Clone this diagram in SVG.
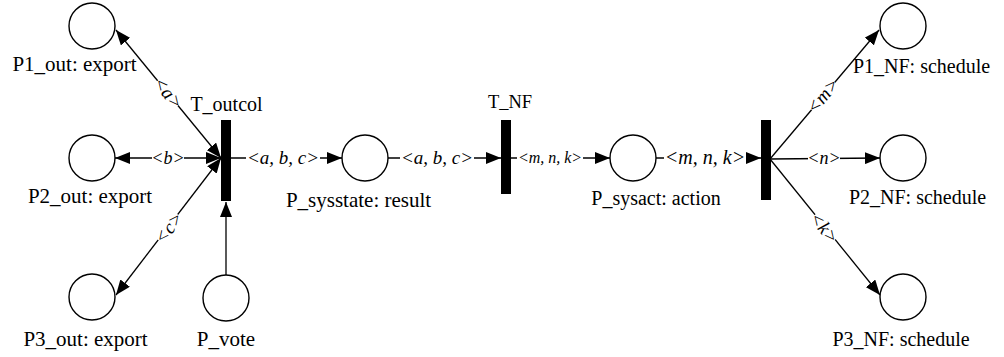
<svg xmlns="http://www.w3.org/2000/svg" width="1004" height="357" viewBox="0 0 1004 357">
<style>
.place{fill:#fff;stroke:#000;stroke-width:1.4}
.bar{fill:#000}
.arc{stroke:#000;stroke-width:1.3;fill:none}
.bg{fill:#fff}
.lbl{font-family:"Liberation Serif","Times New Roman",serif;font-size:21px;fill:#000;text-anchor:middle}
.al{font-family:"Liberation Serif","Times New Roman",serif;font-style:italic;font-size:18px;fill:#000;text-anchor:middle}
</style>
<defs>
<marker id="ah" markerUnits="userSpaceOnUse" markerWidth="15" markerHeight="12" viewBox="0 0 15 12" refX="15" refY="6" orient="auto-start-reverse">
<path d="M0,0 L15,6 L0,12 z" fill="#000"/>
</marker>
</defs>
<rect width="1004" height="357" fill="#fff"/>
<g id="connectors">
<line class="arc" x1="221" y1="158" x2="116" y2="30" marker-start="url(#ah)" marker-end="url(#ah)"/>
<line class="arc" x1="221" y1="158" x2="115" y2="158" marker-start="url(#ah)" marker-end="url(#ah)"/>
<line class="arc" x1="221" y1="158" x2="116" y2="295" marker-start="url(#ah)" marker-end="url(#ah)"/>
<line class="arc" x1="226" y1="275" x2="226" y2="202" marker-end="url(#ah)"/>
<line class="arc" x1="231" y1="158" x2="342" y2="158" marker-end="url(#ah)"/>
<line class="arc" x1="388" y1="158" x2="501" y2="158" marker-end="url(#ah)"/>
<line class="arc" x1="511" y1="158" x2="610" y2="158" marker-end="url(#ah)"/>
<line class="arc" x1="656" y1="158" x2="761" y2="158" marker-end="url(#ah)"/>
<line class="arc" x1="770" y1="159" x2="879" y2="30" marker-end="url(#ah)"/>
<line class="arc" x1="770" y1="159" x2="880" y2="158" marker-end="url(#ah)"/>
<line class="arc" x1="770" y1="159" x2="880" y2="295" marker-end="url(#ah)"/>
<g transform="translate(168,93) rotate(50.6)"><rect class="bg" x="-16" y="-7" width="32" height="14"/><text class="al" x="0" y="6" style="font-size:19px">&lt;a&gt;</text></g>
<g transform="translate(168,158)"><rect class="bg" x="-16" y="-7" width="32" height="14"/><text class="al" x="0" y="6">&lt;b&gt;</text></g>
<g transform="translate(169,228) rotate(-52.4)"><rect class="bg" x="-16" y="-7" width="32" height="14"/><text class="al" x="0" y="6" style="font-size:19px">&lt;c&gt;</text></g>
<g transform="translate(283,158)"><rect class="bg" x="-37" y="-7" width="74" height="14"/><text class="al" x="0" y="6" style="font-size:19px">&lt;a, b, c&gt;</text></g>
<g transform="translate(437,158)"><rect class="bg" x="-37" y="-7" width="74" height="14"/><text class="al" x="0" y="6" style="font-size:19px">&lt;a, b, c&gt;</text></g>
<g transform="translate(550,158)"><rect class="bg" x="-33" y="-7" width="66" height="14"/><text class="al" x="0" y="5" style="font-size:16px">&lt;m, n, k&gt;</text></g>
<g transform="translate(705,158)"><rect class="bg" x="-41" y="-7" width="82" height="14"/><text class="al" x="0" y="6" style="font-size:20px">&lt;m, n, k&gt;</text></g>
<g transform="translate(823,96) rotate(-50.3)"><rect class="bg" x="-18" y="-7" width="36" height="14"/><text class="al" x="0" y="6" style="font-size:19px">&lt;m&gt;</text></g>
<g transform="translate(824,158)"><rect class="bg" x="-16" y="-7" width="32" height="14"/><text class="al" x="0" y="6">&lt;n&gt;</text></g>
<g transform="translate(824,228) rotate(51)"><rect class="bg" x="-16" y="-7" width="32" height="14"/><text class="al" x="0" y="6" style="font-size:19px">&lt;k&gt;</text></g>
</g>
<g id="P1_out"><circle class="place" cx="92" cy="26" r="23"/><text class="lbl" x="74.5" y="71">P1_out: export</text></g>
<g id="P2_out"><circle class="place" cx="92" cy="158" r="23"/><text class="lbl" x="90" y="203">P2_out: export</text></g>
<g id="P3_out"><circle class="place" cx="92" cy="297" r="23"/><text class="lbl" x="85.5" y="346">P3_out: export</text></g>
<g id="P_vote"><circle class="place" cx="226" cy="298" r="23"/><text class="lbl" x="226" y="346">P_vote</text></g>
<g id="T_outcol"><rect class="bar" x="221" y="120" width="10" height="81"/><text class="lbl" x="226.5" y="111" style="font-size:20px">T_outcol</text></g>
<g id="P_sysstate"><circle class="place" cx="365" cy="158" r="23"/><text class="lbl" x="358.5" y="207">P_sysstate: result</text></g>
<g id="T_NF"><rect class="bar" x="501" y="120" width="10" height="74"/><text class="lbl" x="510" y="108" style="font-size:18.5px">T_NF</text></g>
<g id="P_sysact"><circle class="place" cx="633" cy="158" r="23"/><text class="lbl" x="656" y="205" style="font-size:20px">P_sysact: action</text></g>
<g id="T_NF2"><rect class="bar" x="761" y="120" width="10" height="80"/></g>
<g id="P1_NF"><circle class="place" cx="903" cy="26" r="23"/><text class="lbl" x="921.5" y="73" style="font-size:20px">P1_NF: schedule</text></g>
<g id="P2_NF"><circle class="place" cx="903" cy="158" r="23"/><text class="lbl" x="917.5" y="204" style="font-size:20px">P2_NF: schedule</text></g>
<g id="P3_NF"><circle class="place" cx="903" cy="297" r="23"/><text class="lbl" x="901" y="346" style="font-size:20px">P3_NF: schedule</text></g>
</svg>
